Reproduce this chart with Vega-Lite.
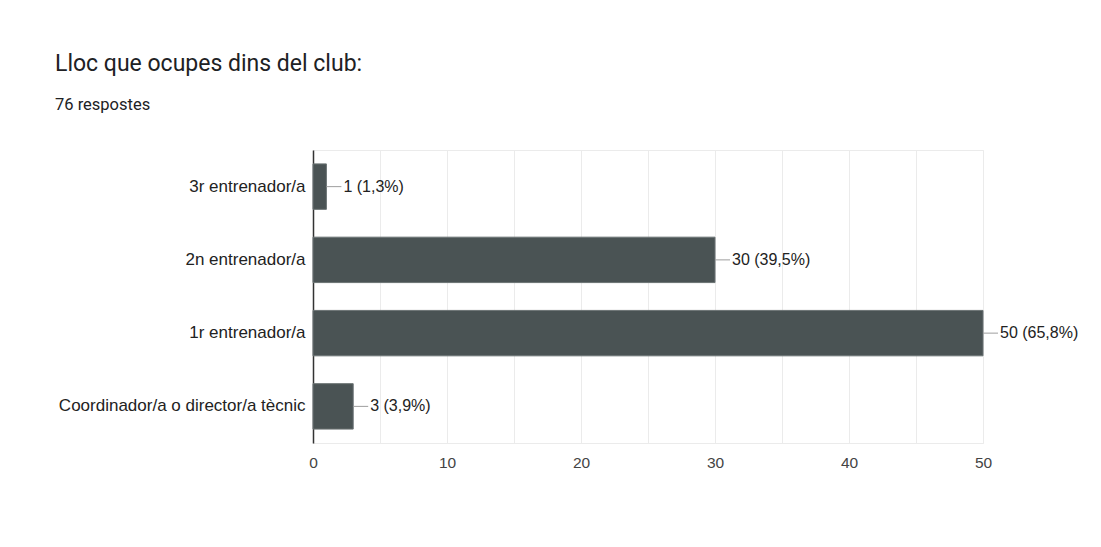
{
  "$schema": "https://vega.github.io/schema/vega-lite/v6.json",
  "autosize": {"type": "none"},
  "width": 670,
  "height": 293,
  "padding": {"left": 313, "top": 150, "right": 118, "bottom": 104},
  "background": "white",
  "config": {
    "view": {"stroke": "#ebebeb", "strokeWidth": 1},
    "font": "Liberation Sans"
  },
  "title": {
    "text": "Lloc que ocupes dins del club:",
    "subtitle": "76 respostes",
    "anchor": "start",
    "frame": "group",
    "dx": -258,
    "offset": 37,
    "font": "Roboto",
    "fontSize": 23,
    "fontWeight": "normal",
    "color": "#202124",
    "subtitleFont": "Roboto",
    "subtitleFontSize": 16.5,
    "subtitleColor": "#202124",
    "subtitlePadding": 21
  },
  "data": {
    "values": [
      {"role": "3r entrenador/a", "count": 1, "label": "1 (1,3%)"},
      {"role": "2n entrenador/a", "count": 30, "label": "30 (39,5%)"},
      {"role": "1r entrenador/a", "count": 50, "label": "50 (65,8%)"},
      {"role": "Coordinador/a o director/a tècnic", "count": 3, "label": "3 (3,9%)"}
    ]
  },
  "encoding": {
    "y": {
      "field": "role",
      "type": "nominal",
      "sort": null,
      "title": null,
      "scale": {"paddingInner": 0.38, "paddingOuter": 0.19},
      "axis": {
        "ticks": false,
        "domainColor": "#333333",
        "domainWidth": 1.5,
        "labelFontSize": 17,
        "labelColor": "#222222",
        "labelPadding": 8,
        "labelLimit": 400
      }
    }
  },
  "layer": [
    {
      "mark": {"type": "bar", "color": "#4a5354", "stroke": "#6b7374", "strokeWidth": 1},
      "encoding": {
        "x": {
          "field": "count",
          "type": "quantitative",
          "title": null,
          "scale": {"domain": [0, 50], "nice": false},
          "axis": {
            "values": [0, 5, 10, 15, 20, 25, 30, 35, 40, 45, 50],
            "labelExpr": "datum.value % 10 == 0 ? datum.label : ''",
            "labelFlush": false,
            "grid": true,
            "gridColor": "#ebebeb",
            "ticks": false,
            "domain": false,
            "labelFont": "Liberation Sans",
            "labelFontSize": 15.5,
            "labelColor": "#444444",
            "labelPadding": 12
          }
        }
      }
    },
    {
      "mark": {"type": "rule", "color": "#9e9e9e", "x2Offset": 15},
      "encoding": {
        "x": {"field": "count", "type": "quantitative"},
        "x2": {"field": "count"}
      }
    },
    {
      "mark": {"type": "text", "align": "left", "baseline": "middle", "dx": 17, "fontSize": 16, "color": "#222222"},
      "encoding": {
        "x": {"field": "count", "type": "quantitative"},
        "text": {"field": "label"}
      }
    }
  ]
}
